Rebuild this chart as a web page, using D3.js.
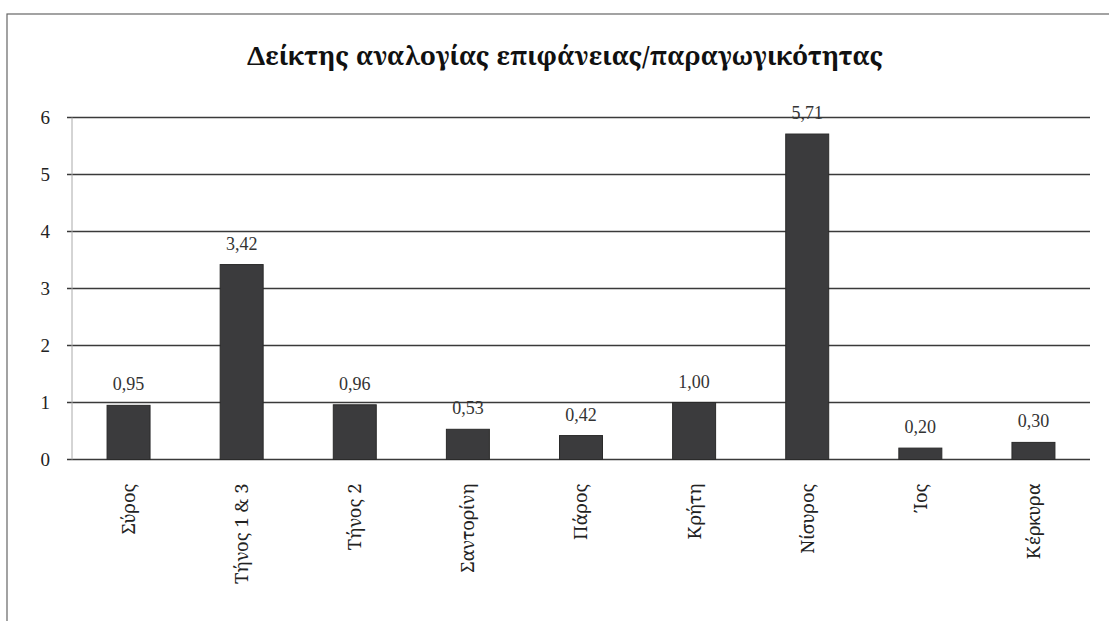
<!DOCTYPE html>
<html><head><meta charset="utf-8">
<script src="https://cdn.jsdelivr.net/npm/d3@7"></script>
<style>body{margin:0;background:#fff}svg{display:block}
svg text{font-family:"Liberation Serif",serif;}
svg text.greek{font-family:"Noto Serif","DejaVu Serif",serif;}</style>
</head><body>
<script>
const categories = ["Σύρος","Τήνος 1 & 3","Τήνος 2","Σαντορίνη","Πάρος","Κρήτη","Νίσυρος","Ίος","Κέρκυρα"];
const values = [0.95,3.42,0.96,0.53,0.42,1.00,5.71,0.20,0.30];
const yTicks = [0,1,2,3,4,5,6];
const title = "Δείκτης αναλογίας επιφάνειας/παραγωγικότητας";

const W = 1109, H = 621;
const svg = d3.select("body").append("svg").attr("width", W).attr("height", H);

svg.append("rect").attr("x",7).attr("y",14).attr("width",W).attr("height",H)
  .attr("fill","none").attr("stroke","#666").attr("stroke-width",1.2);

svg.append("text").attr("class","greek").attr("x",247).attr("y",65)
  .attr("font-weight","bold").attr("font-size",25)
  .attr("textLength",636).attr("lengthAdjust","spacingAndGlyphs")
  .attr("fill","#111").text(title);

const x = d3.scaleBand().domain(categories).range([72,1090]).paddingInner(0.62).paddingOuter(0.31);
const y = d3.scaleLinear().domain([0,6]).range([459.5,117.5]);

const g = svg.append("g");
g.selectAll("line.grid").data(yTicks).join("line")
  .attr("x1",67).attr("x2",1090).attr("y1",d=>y(d)).attr("y2",d=>y(d))
  .attr("stroke","#3a3a3a").attr("stroke-width",1.6);
g.append("line").attr("x1",72).attr("x2",72).attr("y1",y(6)).attr("y2",y(0))
  .attr("stroke","#aaa").attr("stroke-width",1);

const yAxis = d3.axisLeft(y).tickValues(yTicks).tickSize(0).tickPadding(22).tickFormat(d3.format("d"));
const ya = svg.append("g").attr("transform","translate(72,0)").call(yAxis);
ya.attr("font-family",null);
ya.select(".domain").remove();
ya.selectAll("text").attr("font-size",19).attr("fill","#222");

g.selectAll("rect.bar").data(values).join("rect")
  .attr("x",(d,i)=>x(categories[i])).attr("width",x.bandwidth())
  .attr("y",d=>y(d)).attr("height",d=>y(0)-y(d))
  .attr("fill","#3b3b3d").attr("stroke","#2a2a2a").attr("stroke-width",1);

g.selectAll("text.val").data(values).join("text")
  .attr("x",(d,i)=>x(categories[i])+x.bandwidth()/2).attr("y",d=>y(d)-15)
  .attr("text-anchor","middle").attr("font-size",18).attr("fill","#333")
  .text(d=>d3.format(".2f")(d).replace(".",","));

const xAxis = d3.axisBottom(x).tickSize(0).tickPadding(0);
const xa = svg.append("g").attr("transform",`translate(0,${y(0)})`).call(xAxis);
xa.attr("font-family",null);
xa.select(".domain").remove();
xa.selectAll("text").attr("class","greek").attr("font-size",18.5).attr("fill","#222")
  .attr("text-anchor","end").attr("dy","0.35em")
  .attr("transform","translate(0,24) rotate(-90)").attr("x",0).attr("y",0);
</script>
</body></html>
